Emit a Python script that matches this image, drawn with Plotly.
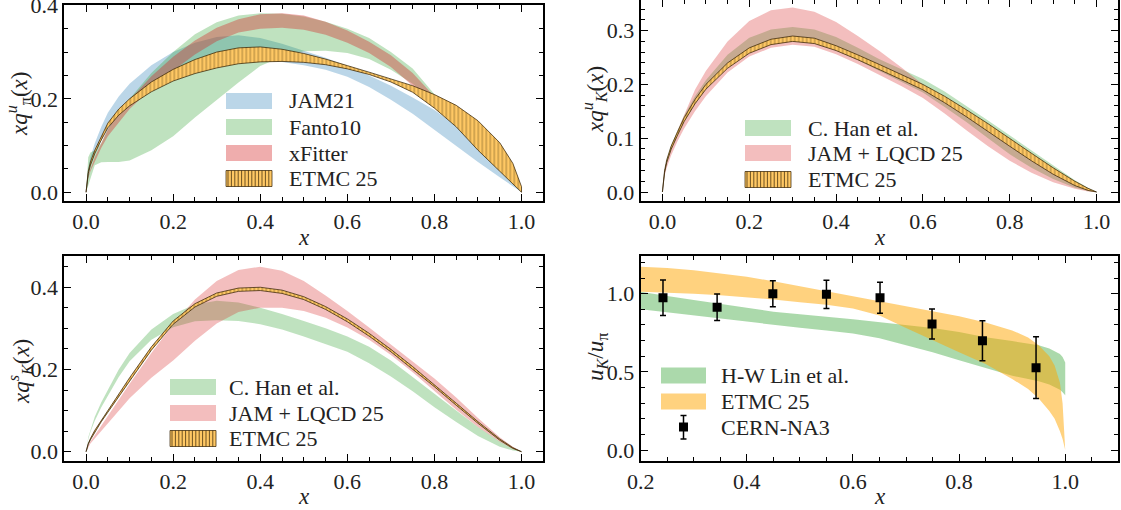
import plotly.graph_objects as go

# ---------------- data ----------------
X1 = [0, 0.005, 0.01, 0.02, 0.035, 0.05, 0.075, 0.1, 0.15, 0.2, 0.25, 0.3, 0.35, 0.4,
      0.45, 0.5, 0.55, 0.6, 0.65, 0.7, 0.75, 0.8, 0.85, 0.9, 0.95, 0.98, 1.0]

# panel 1: x q^u_pi
jam21_lo = [0, 0.035, 0.055, 0.08, 0.11, 0.135, 0.165, 0.19, 0.222, 0.245, 0.262, 0.272, 0.279, 0.281,
            0.279, 0.272, 0.262, 0.247, 0.225, 0.198, 0.168, 0.133, 0.099, 0.065, 0.032, 0.012, 0.0]
jam21_hi = [0, 0.05, 0.075, 0.105, 0.14, 0.17, 0.205, 0.232, 0.272, 0.3, 0.32, 0.332, 0.336, 0.33,
            0.318, 0.303, 0.288, 0.27, 0.25, 0.228, 0.203, 0.176, 0.143, 0.105, 0.058, 0.025, 0.0]
fanto_lo = [0, 0.015, 0.03, 0.058, 0.064, 0.065, 0.065, 0.068, 0.09, 0.12, 0.16, 0.198, 0.235, 0.27,
            0.29, 0.302, 0.303, 0.298, 0.285, 0.262, 0.232, 0.195, 0.155, 0.11, 0.058, 0.025, 0.0]
fanto_hi = [0, 0.075, 0.085, 0.09, 0.105, 0.135, 0.17, 0.2, 0.255, 0.3, 0.338, 0.364, 0.378, 0.383,
            0.382, 0.376, 0.365, 0.35, 0.33, 0.3, 0.265, 0.21, 0.17, 0.123, 0.068, 0.032, 0.005]
xfit_lo = [0, 0.03, 0.045, 0.065, 0.095, 0.12, 0.15, 0.178, 0.222, 0.26, 0.295, 0.323, 0.342, 0.35,
           0.352, 0.348, 0.337, 0.32, 0.298, 0.268, 0.228, 0.19, 0.152, 0.108, 0.055, 0.027, 0.0]
xfit_hi = [0, 0.035, 0.05, 0.075, 0.105, 0.135, 0.17, 0.198, 0.248, 0.29, 0.325, 0.352, 0.37, 0.381,
           0.383, 0.378, 0.365, 0.346, 0.322, 0.293, 0.255, 0.205, 0.165, 0.118, 0.062, 0.03, 0.003]
etmc_pi_lo = [0, 0.04, 0.058, 0.083, 0.112, 0.138, 0.165, 0.185, 0.215, 0.238, 0.254, 0.266, 0.275, 0.279,
              0.28, 0.278, 0.273, 0.264, 0.252, 0.236, 0.214, 0.18, 0.14, 0.09, 0.045, 0.018, 0.0]
etmc_pi_hi = [0, 0.045, 0.065, 0.09, 0.12, 0.148, 0.178, 0.2, 0.236, 0.263, 0.284, 0.3, 0.309, 0.311,
              0.306, 0.297, 0.285, 0.271, 0.257, 0.243, 0.228, 0.209, 0.186, 0.153, 0.106, 0.062, 0.012]

# panel 2: x q^u_K
han_u_lo = [0, 0.035, 0.053, 0.078, 0.105, 0.13, 0.163, 0.19, 0.232, 0.26, 0.275, 0.28, 0.276, 0.263,
            0.245, 0.225, 0.205, 0.185, 0.158, 0.13, 0.1, 0.07, 0.045, 0.024, 0.008, 0.002, 0]
han_u_hi = [0, 0.04, 0.06, 0.087, 0.115, 0.142, 0.178, 0.208, 0.255, 0.287, 0.302, 0.307, 0.302, 0.288,
            0.268, 0.247, 0.228, 0.21, 0.187, 0.16, 0.133, 0.105, 0.077, 0.05, 0.022, 0.008, 0]
jamlq_u_lo = [0, 0.03, 0.045, 0.068, 0.095, 0.118, 0.15, 0.178, 0.222, 0.252, 0.268, 0.274, 0.27, 0.256,
              0.238, 0.218, 0.197, 0.175, 0.146, 0.115, 0.085, 0.058, 0.036, 0.018, 0.006, 0.001, 0]
jamlq_u_hi = [0, 0.04, 0.058, 0.085, 0.115, 0.145, 0.19, 0.225, 0.28, 0.318, 0.338, 0.343, 0.335, 0.316,
              0.29, 0.262, 0.232, 0.2, 0.172, 0.145, 0.117, 0.09, 0.065, 0.04, 0.017, 0.006, 0]
etmc_ku_lo = [0, 0.036, 0.055, 0.079, 0.106, 0.131, 0.164, 0.191, 0.23, 0.258, 0.274, 0.28, 0.276, 0.263,
              0.246, 0.228, 0.209, 0.19, 0.166, 0.14, 0.112, 0.085, 0.058, 0.033, 0.012, 0.003, 0]
etmc_ku_hi = [0, 0.04, 0.06, 0.085, 0.112, 0.138, 0.172, 0.2, 0.24, 0.268, 0.284, 0.29, 0.286, 0.272,
              0.255, 0.237, 0.219, 0.2, 0.178, 0.153, 0.127, 0.1, 0.072, 0.045, 0.02, 0.007, 0]

# panel 3: x q^s_K
han_s_lo = [0, 0.03, 0.048, 0.075, 0.108, 0.136, 0.182, 0.22, 0.272, 0.303, 0.317, 0.32, 0.318, 0.31,
            0.297, 0.28, 0.262, 0.243, 0.215, 0.183, 0.147, 0.108, 0.072, 0.038, 0.012, 0.003, 0]
han_s_hi = [0, 0.035, 0.055, 0.085, 0.12, 0.15, 0.2, 0.24, 0.297, 0.335, 0.358, 0.367, 0.363, 0.35,
            0.335, 0.318, 0.3, 0.28, 0.255, 0.222, 0.182, 0.142, 0.1, 0.06, 0.025, 0.008, 0]
jamlq_s_lo = [0, 0.012, 0.02, 0.032, 0.05, 0.068, 0.1, 0.13, 0.18, 0.222, 0.27, 0.312, 0.34, 0.35,
              0.35, 0.342, 0.326, 0.302, 0.272, 0.235, 0.193, 0.148, 0.102, 0.06, 0.024, 0.007, 0]
jamlq_s_hi = [0, 0.015, 0.025, 0.04, 0.062, 0.085, 0.125, 0.165, 0.24, 0.31, 0.37, 0.415, 0.442, 0.45,
              0.44, 0.415, 0.38, 0.342, 0.302, 0.262, 0.22, 0.178, 0.132, 0.082, 0.035, 0.012, 0]
etmc_ks_lo = [0, 0.018, 0.029, 0.048, 0.073, 0.096, 0.133, 0.173, 0.247, 0.31, 0.352, 0.378, 0.39, 0.392,
              0.385, 0.37, 0.346, 0.316, 0.281, 0.243, 0.201, 0.158, 0.113, 0.069, 0.028, 0.008, 0]
etmc_ks_hi = [0, 0.02, 0.032, 0.052, 0.078, 0.102, 0.14, 0.18, 0.255, 0.318, 0.36, 0.386, 0.398, 0.4,
              0.393, 0.377, 0.353, 0.323, 0.288, 0.249, 0.207, 0.163, 0.118, 0.073, 0.031, 0.01, 0]

# panel 4: u_K / u_pi
X4 = [0.2, 0.25, 0.3, 0.35, 0.4, 0.45, 0.5, 0.55, 0.6, 0.65, 0.7, 0.75, 0.8, 0.85, 0.9,
      0.93, 0.95, 0.97, 0.98, 0.99, 0.995, 1.0]
hwlin_lo = [0.9, 0.88, 0.86, 0.84, 0.82, 0.8, 0.782, 0.765, 0.745, 0.715, 0.67, 0.625, 0.575, 0.525, 0.475,
            0.455, 0.44, 0.42, 0.405, 0.385, 0.37, 0.35]
hwlin_hi = [1.013, 0.985, 0.96, 0.937, 0.91, 0.885, 0.868, 0.852, 0.837, 0.818, 0.8, 0.78, 0.755, 0.722, 0.697,
            0.682, 0.67, 0.65, 0.635, 0.615, 0.595, 0.56]
etmc_r_lo = [1.013, 1.008, 1.0, 0.99, 0.978, 0.963, 0.945, 0.93, 0.905, 0.86, 0.78, 0.7, 0.625, 0.55, 0.455,
             0.39, 0.33, 0.25, 0.2, 0.12, 0.07, 0.0]
etmc_r_hi = [1.173, 1.165, 1.15, 1.13, 1.108, 1.08, 1.05, 1.017, 0.985, 0.952, 0.92, 0.888, 0.855, 0.815, 0.765,
             0.72, 0.67, 0.6, 0.54, 0.43, 0.3, 0.0]
na3_x = [0.242, 0.344, 0.449, 0.55, 0.651, 0.749, 0.844, 0.945]
na3_y = [0.974, 0.913, 1.0, 0.996, 0.974, 0.806, 0.699, 0.527]
na3_err = [0.114, 0.085, 0.083, 0.09, 0.099, 0.096, 0.128, 0.198]

# legend labels
leg1_labels = ["JAM21", "Fanto10", "xFitter", "ETMC 25"]
leg2_labels = ["C. Han et al.", "JAM + LQCD 25", "ETMC 25"]
leg4_labels = ["H-W Lin et al.", "ETMC 25", "CERN-NA3"]

# ---------------- styling ----------------
W, H = 1121, 510
FONT = "Liberation Serif"
TXT = "#222222"
C_BLUE = "rgba(31,119,180,0.3)"
C_GREEN = "rgba(44,160,44,0.3)"
C_RED4 = "rgba(214,39,40,0.38)"
C_RED3 = "rgba(214,39,40,0.3)"
C_GREEN4 = "rgba(44,160,44,0.4)"
C_ORANGE = "rgba(255,165,0,0.5)"
HATCH_BG = "rgb(255,200,100)"
HATCH_FG = "rgba(40,25,0,0.85)"
HATCH = dict(shape="|", bgcolor=HATCH_BG, fgcolor=HATCH_FG, size=4, solidity=0.25)

fig = go.Figure()


def band(x, lo, hi, name, color, xa, ya, hatch=False):
    kw = dict(x=list(x) + list(x)[::-1], y=list(lo) + list(hi)[::-1], fill="toself",
              name=name, xaxis=xa, yaxis=ya, mode="lines", hoverinfo="skip", showlegend=False)
    if hatch:
        kw.update(fillcolor=HATCH_BG, fillpattern=HATCH, line=dict(color="rgba(50,30,0,0.9)", width=0.8))
    else:
        kw.update(fillcolor=color, line=dict(width=0))
    fig.add_trace(go.Scatter(**kw))


band(X1, jam21_lo, jam21_hi, leg1_labels[0], C_BLUE, "x", "y")
band(X1, fanto_lo, fanto_hi, leg1_labels[1], C_GREEN, "x", "y")
band(X1, xfit_lo, xfit_hi, leg1_labels[2], C_RED4, "x", "y")
band(X1, etmc_pi_lo, etmc_pi_hi, leg1_labels[3], None, "x", "y", hatch=True)

band(X1, han_u_lo, han_u_hi, leg2_labels[0], C_GREEN, "x2", "y2")
band(X1, jamlq_u_lo, jamlq_u_hi, leg2_labels[1], C_RED3, "x2", "y2")
band(X1, etmc_ku_lo, etmc_ku_hi, leg2_labels[2], None, "x2", "y2", hatch=True)

band(X1, han_s_lo, han_s_hi, leg2_labels[0], C_GREEN, "x3", "y3")
band(X1, jamlq_s_lo, jamlq_s_hi, leg2_labels[1], C_RED3, "x3", "y3")
band(X1, etmc_ks_lo, etmc_ks_hi, leg2_labels[2], None, "x3", "y3", hatch=True)

band(X4, hwlin_lo, hwlin_hi, leg4_labels[0], C_GREEN4, "x4", "y4")
band(X4, etmc_r_lo, etmc_r_hi, leg4_labels[1], C_ORANGE, "x4", "y4")
fig.add_trace(go.Scatter(x=na3_x, y=na3_y, mode="markers", name=leg4_labels[2], showlegend=False,
                         marker=dict(symbol="square", size=9, color="black"),
                         error_y=dict(type="data", array=na3_err, color="black", thickness=1.5, width=3),
                         xaxis="x4", yaxis="y4"))

XL = [64.3 / W, 543.3 / W]
XR = [640.7 / W, 1118.3 / W]
YT = [1 - 200.5 / H, 1 - 5 / H]
YT2 = [1 - 200.5 / H, 1.0]
YB = [1 - 461 / H, 1 - 256 / H]


def ax(domain, rng, dtick, minor, anchor):
    return dict(domain=domain, range=rng, dtick=dtick, tick0=0, anchor=anchor,
                showline=True, linecolor="black", linewidth=2, mirror="allticks",
                ticks="inside", ticklen=7, tickwidth=1.4, tickcolor="black",
                minor=dict(dtick=minor, ticks="inside", ticklen=4, tickcolor="black"),
                showgrid=False, zeroline=False, tickformat=".1f", automargin=False,
                ticklabeloverflow="allow",
                tickfont=dict(family=FONT, size=22, color=TXT))


fig.update_layout(
    width=W, height=H, margin=dict(l=0, r=0, t=0, b=0),
    paper_bgcolor="white", plot_bgcolor="white",
    xaxis=ax(XL, [-0.05, 1.05], 0.2, 0.05, "y"),
    yaxis=ax(YT, [-0.0176, 0.4007], 0.2, 0.05, "x"),
    xaxis2=ax(XR, [-0.05, 1.05], 0.2, 0.05, "y2"),
    yaxis2=ax(YT2, [-0.0158, 0.357], 0.1, 0.02, "x2"),
    xaxis3=ax(XL, [-0.05, 1.05], 0.2, 0.05, "y3"),
    yaxis3=ax(YB, [-0.0226, 0.476], 0.2, 0.05, "x3"),
    xaxis4=ax(XR, [0.2, 1.1], 0.2, 0.05, "y4"),
    yaxis4=ax(YB, [-0.07, 1.241], 0.5, 0.1, "x4"),
    showlegend=False,
)

# ---------------- manual legends (paper coordinates from pixels) ----------------
shapes = []


def px(xp):
    return xp / W


def py(yp):
    return 1 - yp / H


def swatch(x0, x1, yc, color, hatch=False, h=16):
    y0, y1 = yc - h / 2, yc + h / 2
    if hatch:
        shapes.append(dict(type="rect", xref="paper", yref="paper", x0=px(x0), x1=px(x1), y0=py(y1), y1=py(y0),
                           fillcolor=HATCH_BG, line=dict(color="rgba(50,30,0,0.9)", width=0.8), layer="above"))
        xx = x0 + 2
        while xx < x1 - 0.5:
            shapes.append(dict(type="line", xref="paper", yref="paper", x0=px(xx), x1=px(xx),
                               y0=py(y1), y1=py(y0), line=dict(color=HATCH_FG, width=0.8), layer="above"))
            xx += 3.4
    else:
        shapes.append(dict(type="rect", xref="paper", yref="paper", x0=px(x0), x1=px(x1), y0=py(y1), y1=py(y0),
                           fillcolor=color, line=dict(width=0), layer="above"))


def label(x, yc, text):
    fig.add_annotation(x=px(x), y=py(yc), text=text, xref="paper", yref="paper", showarrow=False,
                       xanchor="left", yanchor="middle", font=dict(family=FONT, size=22, color=TXT))


leg1_colors = [C_BLUE, C_GREEN, C_RED4, None]
for lab, col, yc in zip(leg1_labels, leg1_colors, [101, 127, 153, 178.5]):
    swatch(226, 272, yc, col, hatch=(col is None))
    label(287, yc, lab)

leg2_colors = [C_GREEN, C_RED3, None]
for lab, col, yc in zip(leg2_labels, leg2_colors, [128, 153, 179.5]):
    swatch(745, 791, yc, col, hatch=(col is None))
    label(806, yc, lab)

for lab, col, yc in zip(leg2_labels, leg2_colors, [387, 413, 438.5]):
    swatch(170, 216, yc, col, hatch=(col is None))
    label(227, yc, lab)

for lab, col, yc in zip(leg4_labels[:2], [C_GREEN4, C_ORANGE], [375.5, 401.5]):
    swatch(661, 706, yc, col)
    label(719, yc, lab)
mx, my = 683.5, 427
shapes.append(dict(type="line", xref="paper", yref="paper", x0=px(mx), x1=px(mx), y0=py(415.5), y1=py(439),
                   line=dict(color="black", width=1.5)))
for yy in (415.5, 439):
    shapes.append(dict(type="line", xref="paper", yref="paper", x0=px(mx - 3), x1=px(mx + 3), y0=py(yy), y1=py(yy),
                       line=dict(color="black", width=1.5)))
shapes.append(dict(type="rect", xref="paper", yref="paper", x0=px(mx - 4.5), x1=px(mx + 4.5),
                   y0=py(my + 4.5), y1=py(my - 4.5), fillcolor="black", line=dict(width=0)))
label(719, 427.5, leg4_labels[2])

fig.update_layout(shapes=shapes)

# ---------------- axis titles ----------------
ann = dict(xref="paper", yref="paper", showarrow=False, xanchor="center", yanchor="middle",
           font=dict(family=FONT, size=23, color=TXT))
fig.add_annotation(x=(XL[0] + XL[1]) / 2, y=py(237), text="<i>x</i>", **ann)
fig.add_annotation(x=(XR[0] + XR[1]) / 2, y=py(237), text="<i>x</i>", **ann)
fig.add_annotation(x=(XL[0] + XL[1]) / 2, y=py(496), text="<i>x</i>", **ann)
fig.add_annotation(x=(XR[0] + XR[1]) / 2, y=py(496), text="<i>x</i>", **ann)
fig.add_annotation(x=px(19), y=py(104), textangle=-90,
                   text="<i>xq</i><sup><i>u</i></sup><sub>π</sub>(<i>x</i>)", **ann)
fig.add_annotation(x=px(595), y=py(100), textangle=-90,
                   text="<i>xq</i><sup><i>u</i></sup><sub><i>K</i></sub>(<i>x</i>)", **ann)
fig.add_annotation(x=px(20), y=py(372), textangle=-90,
                   text="<i>xq</i><sup><i>s</i></sup><sub><i>K</i></sub>(<i>x</i>)", **ann)
fig.add_annotation(x=px(597), y=py(357), textangle=-90,
                   text="<i>u</i><sub><i>K</i></sub>/<i>u</i><sub>π</sub>", **ann)

fig.write_html("out.html")
